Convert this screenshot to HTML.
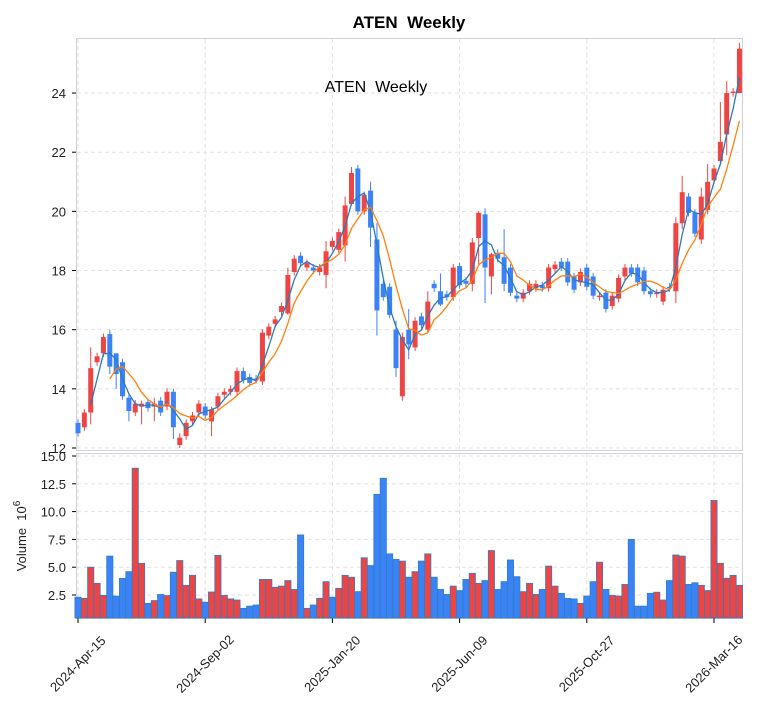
<!DOCTYPE html>
<html><head><meta charset="utf-8"><style>
body{margin:0;background:#fff;}
svg{display:block;font-family:"Liberation Sans",sans-serif;}
</style></head><body>
<svg id="s" width="763" height="712" xmlns="http://www.w3.org/2000/svg"></svg>
<script>
var C=[[12.85,12.5],[12.7,13.2],[13.2,14.7],[14.9,15.1],[15.2,15.75],[15.85,14.75],[15.2,14.5],[14.9,13.75],[13.7,13.25],[13.2,13.5],
[13.4,13.5],[13.55,13.35],[13.4,13.5],[13.6,13.2],[13.4,13.9],[13.9,12.7],[12.1,12.35],[12.4,12.85],[12.9,13.1],[13.2,13.5],
[13.4,13.1],[12.9,13.3],[13.4,13.75],[13.8,13.9],[13.9,14.0],[13.9,14.6],[14.6,14.3],[14.4,14.2],[14.35,14.3],[14.25,15.9],
[15.8,16.1],[16.2,16.35],[16.6,16.8],[16.55,17.85],[17.95,18.4],[18.5,18.25],[18.1,18.25],[18.1,18.0],[17.95,18.1],[17.85,18.65],
[18.8,19.0],[18.7,19.3],[18.85,20.2],[20.25,21.3],[21.45,20.0],[20.0,20.55],[20.7,19.45],[19.05,16.65],[17.55,17.1],[17.45,16.5],
[16.0,14.7],[13.75,15.75],[16.0,15.5],[15.4,16.3],[16.45,16.15],[16.0,16.95],[17.55,17.4],[17.3,16.85],[17.2,17.1],[17.1,18.1],
[18.15,17.5],[17.65,17.55],[17.55,18.95],[19.1,19.95],[19.9,18.1],[17.8,18.55],[18.6,18.4],[18.45,17.55],[18.1,17.25],[17.15,17.05],
[17.05,17.25],[17.3,17.55],[17.4,17.55],[17.5,17.4],[17.4,18.1],[18.05,18.2],[18.3,18.1],[18.3,17.6],[17.8,17.35],[17.6,17.95],
[18.1,17.45],[17.8,17.15],[17.1,17.15],[17.25,16.7],[16.8,17.15],[17.05,17.75],[17.8,18.1],[18.1,17.9],[18.1,17.6],[18.0,17.3],
[17.3,17.2],[17.2,17.25],[16.95,17.35],[17.45,17.4],[17.3,19.6],[19.6,20.65],[20.5,19.95],[19.95,19.25],[19.05,20.5],[20.05,21.0],
[21.05,21.45],[21.7,22.35],[22.6,24.0],[24.0,24.05],[24.0,25.5]];
var HL={2:[15.4,12.8],5:[16.0,14.5],6:[15.2,14.0],8:[13.8,12.9],10:[13.6,12.8],12:[13.7,12.9],15:[14.0,12.3],16:[12.5,12.0],21:[13.4,12.4],33:[18.1,16.5],39:[19.0,17.4],42:[20.5,18.3],43:[21.5,20.2],46:[21.0,18.8],47:[19.6,15.8],50:[16.3,14.4],51:[15.9,13.6],52:[16.7,15.0],55:[17.3,15.9],57:[17.9,16.8],62:[19.1,17.3],63:[20.0,18.2],64:[20.1,16.9],65:[18.6,17.2],67:[19.4,17.3],94:[19.8,16.9],95:[21.2,19.4],98:[20.8,18.9],99:[21.6,19.9],101:[23.7,21.6],102:[24.4,21.9],104:[25.7,24.0]};
var V=[2.3,2.2,5.0,3.55,2.47,6.0,2.4,4.0,4.6,13.9,5.35,1.75,2.0,2.55,2.45,4.55,5.6,3.37,4.27,2.15,1.85,2.77,6.07,2.47,2.15,2.05,1.3,1.5,1.6,3.9,3.9,3.2,3.3,3.8,3.0,7.9,1.3,1.6,2.2,3.7,2.3,3.1,4.27,4.1,2.8,5.85,5.15,11.55,13.0,6.2,5.7,5.55,4.1,4.6,5.55,6.2,4.1,3.0,2.55,3.3,2.9,3.9,4.45,3.55,3.8,6.5,3.0,3.7,5.65,4.15,2.8,3.55,2.55,3.0,5.1,3.3,2.65,2.2,2.15,1.75,2.4,3.7,5.45,3.0,2.47,2.4,3.45,7.5,1.5,1.5,2.65,2.75,2.05,3.8,6.1,6.0,3.45,3.6,3.37,2.9,11.0,5.35,4.0,4.27,3.37];
var VC="BRRRRBBBBRRBRBRBRRRRBRRRRRBBBRRRRRRBRBRRBRRRBRBBBBBRBRBRBBBRBBRRBRBBBBRRRBRRBBBRBBRBRRRBBBBRRBRRBBRRRRRRR";
function X(i){return 78+6.36*i;}
function PY(p){return 448-(p-12)*29.58;}
function VY(v){return 595-(v-2.5)*11.12;}
var RED="#ef4444",BLU="#3b82f6";
var h='';
h+='<rect x="76.5" y="38.5" width="666" height="412" fill="none" stroke="#d0d0d8"/>';
h+='<rect x="76.5" y="453.5" width="666" height="165" fill="none" stroke="#d0d0d8"/>';
var g='stroke="#e2e2e2" stroke-dasharray="4,3" stroke-width="1"';
for(var p=12;p<=24;p+=2){var y=PY(p);h+='<line x1="77" x2="742" y1="'+y+'" y2="'+y+'" '+g+'/>';
h+='<line x1="72" x2="76" y1="'+y+'" y2="'+y+'" stroke="#000"/>';
h+='<text x="66" y="'+(y+5)+'" font-size="13" text-anchor="end" fill="#222">'+p+'</text>';}
for(var k=1;k<=6;k++){var v=k*2.5,y=VY(v);h+='<line x1="77" x2="742" y1="'+y+'" y2="'+y+'" '+g+'/>';
h+='<line x1="72" x2="76" y1="'+y+'" y2="'+y+'" stroke="#000"/>';
h+='<text x="66" y="'+(y+5)+'" font-size="13" text-anchor="end" fill="#222">'+v.toFixed(1)+'</text>';}
var TL=["2024-Apr-15","2024-Sep-02","2025-Jan-20","2025-Jun-09","2025-Oct-27","2026-Mar-16"];
for(var k=0;k<6;k++){var x=78+127.2*k;
h+='<line x1="'+x+'" x2="'+x+'" y1="39" y2="450" '+g+'/><line x1="'+x+'" x2="'+x+'" y1="454" y2="618" '+g+'/>';
h+='<line x1="'+x+'" x2="'+x+'" y1="618" y2="623" stroke="#000"/>';
h+='<text transform="translate('+(x+3)+',667) rotate(-45)" font-size="13" text-anchor="middle" fill="#222">'+TL[k]+'</text>';}
for(var i=0;i<V.length;i++){var y=VY(V[i]);h+='<rect x="'+(X(i)-3.1)+'" y="'+y+'" width="6.2" height="'+(618-y)+'" fill="'+(VC[i]=="R"?RED:BLU)+'" stroke="#2f7fc0" stroke-width="0.8"/>';}
for(var i=0;i<C.length;i++){var o=C[i][0],c=C[i][1],up=c>=o,col=up?RED:BLU;
var hi=Math.max(o,c)+0.12,lo=Math.min(o,c)-0.12;if(HL[i]){hi=HL[i][0];lo=HL[i][1];}
var x=X(i);h+='<line x1="'+x+'" x2="'+x+'" y1="'+PY(hi)+'" y2="'+PY(lo)+'" stroke="'+col+'" stroke-width="1"/>';
var t=PY(Math.max(o,c)),b=PY(Math.min(o,c));if(b-t<1.5)b=t+1.5;
h+='<rect x="'+(x-2.5)+'" y="'+t+'" width="5" height="'+(b-t)+'" fill="'+col+'"/>';}
function ma(n,col){var pts=[];for(var i=n-1;i<C.length;i++){var s=0;for(var j=0;j<n;j++)s+=C[i-j][1];pts.push(X(i).toFixed(1)+','+PY(s/n).toFixed(1));}
return '<polyline points="'+pts.join(' ')+'" fill="none" stroke="'+col+'" stroke-width="1.3" stroke-linejoin="round"/>';}
h+=ma(3,"#2b7bba");h+=ma(6,"#ff7f0e");
h+='<text x="409" y="28" font-size="17" font-weight="bold" text-anchor="middle" fill="#000">ATEN&#160; Weekly</text>';
h+='<text x="376" y="92" font-size="16" text-anchor="middle" fill="#000">ATEN&#160; Weekly</text>';
h+='<text transform="translate(26,536) rotate(-90)" font-size="13" text-anchor="middle" fill="#222">Volume&#160; 10<tspan dy="-6" font-size="10">6</tspan></text>';
document.getElementById('s').innerHTML=h;
</script>
</body></html>
